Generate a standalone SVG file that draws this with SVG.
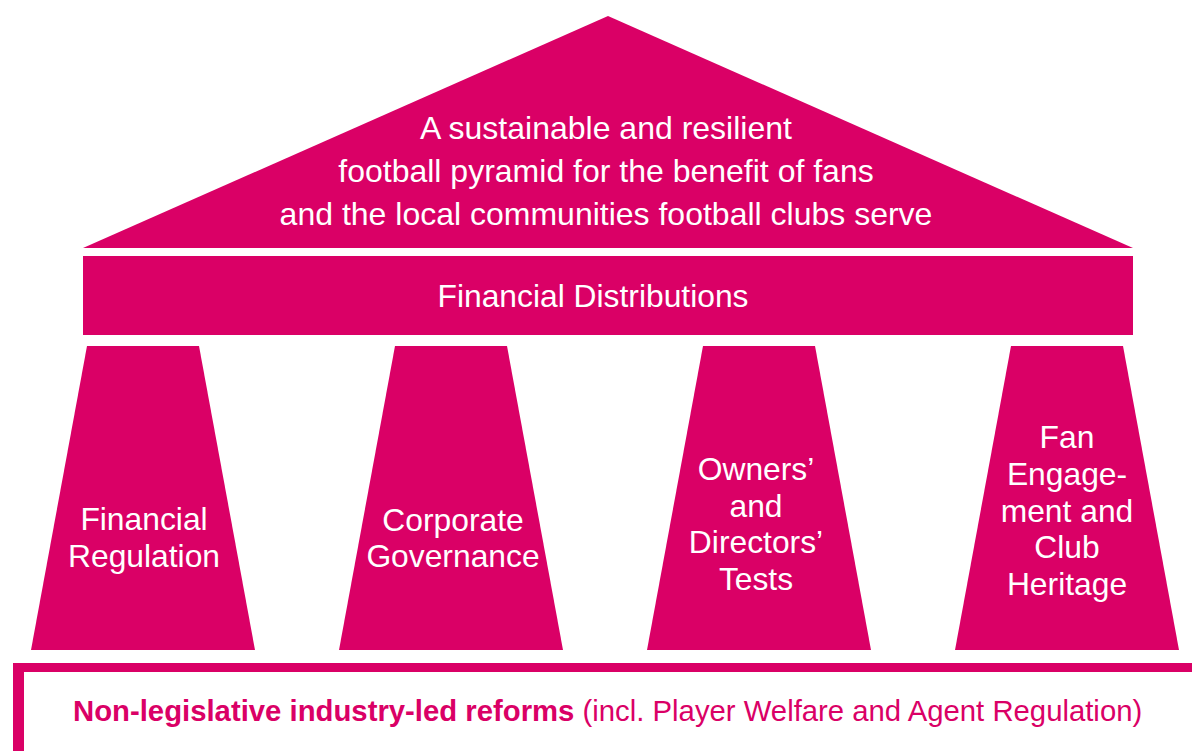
<svg xmlns="http://www.w3.org/2000/svg" width="1192" height="751" viewBox="0 0 1192 751">
<style>
.shape{fill:#DA0066;}
.w{fill:#FFFFFF;font-family:"Liberation Sans",Arial,sans-serif;text-anchor:middle;}
.top{font-size:32px;}
.pil{font-size:31.8px;}
.bot{fill:#DA0066;font-family:"Liberation Sans",Arial,sans-serif;font-size:29.3px;}
</style>
<rect width="1192" height="751" fill="#FFFFFF"/>
<g id="roof">
<polygon class="shape" points="608,16 1133,248 83,248"/>
<text class="w top" x="606" y="139">A sustainable and resilient</text>
<text class="w top" x="606" y="182">football pyramid for the benefit of fans</text>
<text class="w top" x="606" y="225">and the local communities football clubs serve</text>
</g>
<g id="distributions">
<rect class="shape" x="83" y="256" width="1050" height="79"/>
<text class="w pil" x="593" y="307">Financial Distributions</text>
</g>
<g id="pillar-financial-regulation">
<polygon class="shape" points="87,346 199,346 255,650 31,650"/>
<text class="w pil" x="144" y="530">Financial</text>
<text class="w pil" x="144" y="567">Regulation</text>
</g>
<g id="pillar-corporate-governance">
<polygon class="shape" points="395,346 507,346 563,650 339,650"/>
<text class="w pil" x="453" y="531">Corporate</text>
<text class="w pil" x="453" y="567">Governance</text>
</g>
<g id="pillar-owners-directors">
<polygon class="shape" points="703,346 815,346 871,650 647,650"/>
<text class="w pil" x="756" y="480">Owners’</text>
<text class="w pil" x="756" y="517">and</text>
<text class="w pil" x="756" y="553">Directors’</text>
<text class="w pil" x="756" y="590">Tests</text>
</g>
<g id="pillar-fan-engagement">
<polygon class="shape" points="1011,346 1123,346 1179,650 955,650"/>
<text class="w pil" x="1067" y="448">Fan</text>
<text class="w pil" x="1067" y="485">Engage-</text>
<text class="w pil" x="1067" y="522">ment and</text>
<text class="w pil" x="1067" y="558">Club</text>
<text class="w pil" x="1067" y="595">Heritage</text>
</g>
<g id="foundation">
<rect class="shape" x="13" y="663" width="1179" height="9"/>
<rect class="shape" x="13" y="663" width="11" height="88"/>
<text class="bot" x="73" y="721"><tspan font-weight="bold">Non-legislative industry-led reforms</tspan> (incl. Player Welfare and Agent Regulation)</text>
</g>
<g id="connectors"></g>
</svg>
